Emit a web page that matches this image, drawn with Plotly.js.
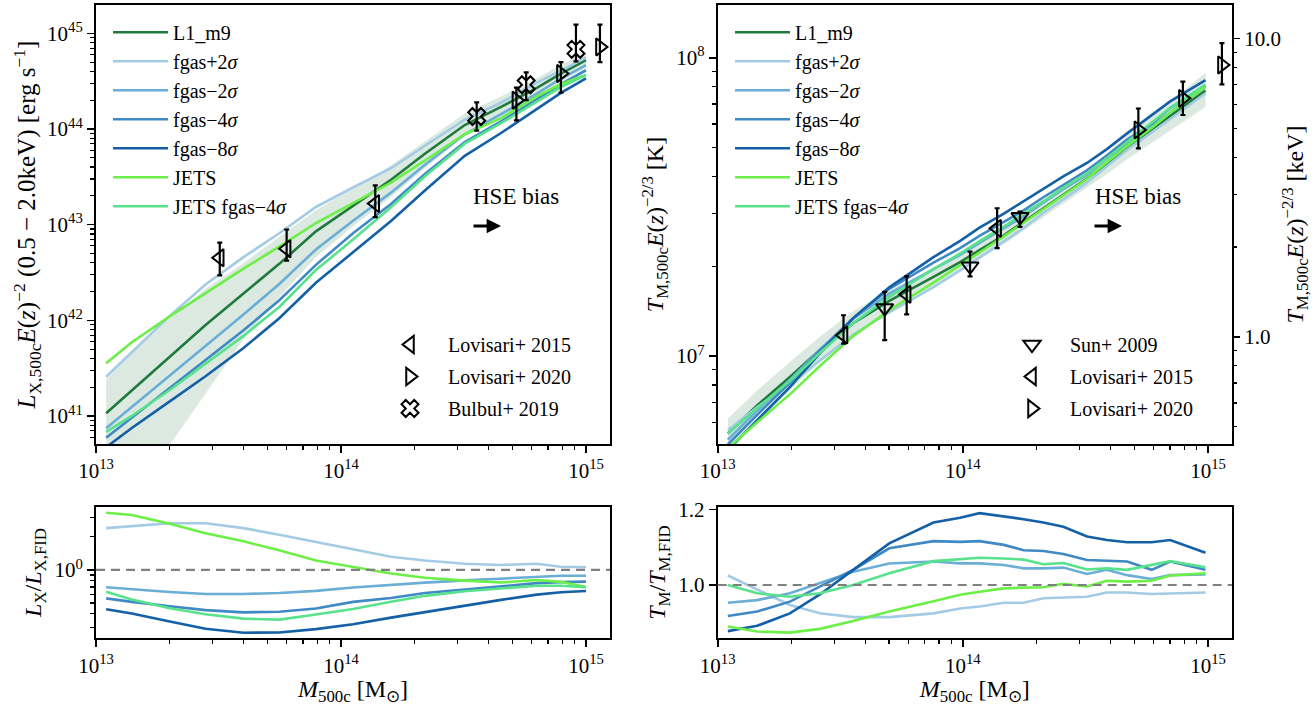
<!DOCTYPE html>
<html>
<head>
<meta charset="utf-8">
<script src="https://cdn.plot.ly/plotly-3.0.1.min.js"></script>
<style>html,body{margin:0;padding:0;background:#fff;}#plot{width:1315px;height:706px;}</style>
</head>
<body>
<div id="plot"></div>
<script>
// ---------------- DATA ----------------
// Luminosity panel (mass grid, Msun)
const massL = [1.1e13, 1.4e13, 2.0e13, 2.8e13, 4.0e13, 5.6e13, 7.9e13, 1.12e14, 1.6e14, 2.2e14, 3.2e14, 4.5e14, 6.3e14, 7.9e14, 1.0e15];
const Lx_L1m9   = [1.07e41, 1.86e41, 4.17e41, 8.91e41, 1.91e42, 3.89e42, 8.51e42, 1.58e43, 2.95e43, 5.50e43, 1.10e44, 1.70e44, 2.69e44, 3.80e44, 5.25e44];
const Lx_bandHi = [2.40e41, 4.47e41, 1.05e42, 2.14e42, 3.98e42, 7.41e42, 1.41e43, 2.40e43, 4.17e43, 7.41e43, 1.45e44, 2.19e44, 3.39e44, 4.68e44, 6.31e44];
const Lx_bandLo = [1.07e40, 1.86e40, 5.01e40, 1.74e41, 6.31e41, 1.74e42, 4.57e42, 9.55e42, 1.95e43, 3.89e43, 8.32e43, 1.32e44, 2.14e44, 3.09e44, 4.37e44];
const Lx_fgasP2 = [2.57e41, 4.68e41, 1.11e42, 2.37e42, 4.57e42, 8.13e42, 1.53e43, 2.45e43, 3.89e43, 6.68e43, 1.25e44, 1.88e44, 3.05e44, 4.07e44, 5.56e44];
const Lx_fgasM2 = [7.46e40, 1.24e41, 2.63e41, 5.40e41, 1.15e42, 2.40e42, 5.50e42, 1.10e43, 2.16e43, 4.22e43, 8.81e43, 1.43e44, 2.34e44, 3.37e44, 4.66e44];
const Lx_fgasM4 = [5.92e40, 9.55e40, 1.95e41, 3.85e41, 7.85e41, 1.62e42, 3.80e42, 8.13e42, 1.64e43, 3.39e43, 7.28e43, 1.20e44, 2.04e44, 2.95e44, 4.11e44];
const Lx_fgasM8 = [4.71e40, 7.48e40, 1.42e41, 2.60e41, 5.13e41, 1.05e42, 2.47e42, 5.09e42, 1.09e43, 2.27e43, 5.24e43, 9.08e43, 1.61e44, 2.38e44, 3.38e44];
const Lx_jets   = [3.55e41, 5.89e41, 1.10e42, 1.93e42, 3.47e42, 5.89e42, 1.04e43, 1.68e43, 2.75e43, 4.68e43, 8.81e43, 1.30e44, 2.19e44, 2.95e44, 3.66e44];
const Lx_jetsM4 = [6.81e40, 1.00e41, 1.87e41, 3.53e41, 6.87e41, 1.38e42, 3.35e42, 6.98e42, 1.52e43, 3.20e43, 7.03e43, 1.15e44, 1.94e44, 2.74e44, 3.66e44];

// L_X ratios to fiducial
const rL_fgasP2 = [2.40, 2.51, 2.66, 2.66, 2.40, 2.09, 1.80, 1.55, 1.32, 1.22, 1.14, 1.11, 1.14, 1.07, 1.06];
const rL_fgasM2 = [0.697, 0.668, 0.631, 0.605, 0.605, 0.617, 0.646, 0.692, 0.733, 0.767, 0.804, 0.839, 0.871, 0.887, 0.887];
const rL_fgasM4 = [0.552, 0.513, 0.468, 0.432, 0.412, 0.417, 0.447, 0.513, 0.556, 0.617, 0.664, 0.705, 0.759, 0.776, 0.783];
const rL_fgasM8 = [0.44, 0.402, 0.340, 0.292, 0.269, 0.270, 0.290, 0.321, 0.369, 0.413, 0.478, 0.535, 0.597, 0.627, 0.644];
const rL_jets   = [3.31, 3.16, 2.63, 2.16, 1.82, 1.51, 1.22, 1.06, 0.93, 0.85, 0.80, 0.77, 0.81, 0.78, 0.70];
const rL_jetsM4 = [0.635, 0.540, 0.449, 0.396, 0.361, 0.354, 0.394, 0.441, 0.514, 0.582, 0.641, 0.679, 0.719, 0.719, 0.697];

// Temperature panel (mass grid, Msun; T in K)
const massT = [1.10e13, 1.45e13, 1.97e13, 2.61e13, 3.57e13, 5.01e13, 7.59e13, 9.75e13, 1.17e14, 1.47e14, 1.77e14, 2.13e14, 2.57e14, 3.21e14, 3.87e14, 4.68e14, 5.89e14, 7.01e14, 9.77e14];
const T_L1m9   = [5.50e6, 6.84e6, 8.51e6, 1.047e7, 1.288e7, 1.531e7, 1.841e7, 2.065e7, 2.265e7, 2.541e7, 2.818e7, 3.126e7, 3.467e7, 3.936e7, 4.416e7, 5.012e7, 5.754e7, 6.383e7, 7.762e7];
const T_bandHi = [6.17e6, 7.67e6, 9.55e6, 1.161e7, 1.412e7, 1.660e7, 1.974e7, 2.214e7, 2.428e7, 2.724e7, 3.021e7, 3.351e7, 3.717e7, 4.219e7, 4.787e7, 5.493e7, 6.381e7, 7.162e7, 8.911e7];
const T_bandLo = [4.90e6, 6.10e6, 7.67e6, 9.55e6, 1.188e7, 1.428e7, 1.717e7, 1.926e7, 2.113e7, 2.370e7, 2.629e7, 2.916e7, 3.234e7, 3.672e7, 4.074e7, 4.573e7, 5.188e7, 5.689e7, 6.839e7];
const T_fgasP2 = [5.64e6, 6.75e6, 8.06e6, 9.68e6, 1.179e7, 1.401e7, 1.703e7, 1.937e7, 2.136e7, 2.422e7, 2.686e7, 3.017e7, 3.353e7, 3.814e7, 4.328e7, 4.912e7, 5.616e7, 6.243e7, 7.607e7];
const T_fgasM2 = [5.24e6, 6.57e6, 8.32e6, 1.051e7, 1.333e7, 1.618e7, 1.955e7, 2.183e7, 2.394e7, 2.676e7, 2.942e7, 3.264e7, 3.627e7, 4.050e7, 4.593e7, 5.142e7, 5.846e7, 6.549e7, 7.979e7];
const T_fgasM4 = [5.05e6, 6.36e6, 8.14e6, 1.043e7, 1.340e7, 1.680e7, 2.055e7, 2.300e7, 2.528e7, 2.810e7, 3.077e7, 3.407e7, 3.751e7, 4.196e7, 4.703e7, 5.323e7, 5.984e7, 6.779e7, 8.072e7];
const T_fgasM8 = [4.83e6, 6.10e6, 7.87e6, 1.021e7, 1.340e7, 1.699e7, 2.145e7, 2.433e7, 2.695e7, 3.003e7, 3.308e7, 3.642e7, 4.001e7, 4.440e7, 4.942e7, 5.578e7, 6.404e7, 7.143e7, 8.422e7];
const T_jets   = [4.90e6, 6.00e6, 7.44e6, 9.26e6, 1.166e7, 1.424e7, 1.762e7, 2.011e7, 2.224e7, 2.518e7, 2.798e7, 3.107e7, 3.477e7, 3.920e7, 4.465e7, 5.057e7, 5.817e7, 6.543e7, 8.003e7];
const T_jetsM4 = [5.50e6, 6.69e6, 8.25e6, 1.024e7, 1.288e7, 1.578e7, 1.957e7, 2.207e7, 2.428e7, 2.719e7, 3.007e7, 3.298e7, 3.668e7, 4.097e7, 4.610e7, 5.212e7, 6.059e7, 6.785e7, 8.127e7];

// T ratios to fiducial
const rT_fgasP2 = [1.025, 0.987, 0.947, 0.925, 0.915, 0.915, 0.925, 0.938, 0.943, 0.953, 0.953, 0.965, 0.967, 0.969, 0.98, 0.98, 0.976, 0.978, 0.98];
const rT_fgasM2 = [0.953, 0.96, 0.978, 1.004, 1.035, 1.057, 1.062, 1.057, 1.057, 1.053, 1.044, 1.044, 1.046, 1.029, 1.04, 1.026, 1.016, 1.026, 1.028];
const rT_fgasM4 = [0.918, 0.93, 0.956, 0.996, 1.04, 1.097, 1.116, 1.114, 1.116, 1.106, 1.092, 1.09, 1.082, 1.066, 1.065, 1.062, 1.04, 1.062, 1.04];
const rT_fgasM8 = [0.878, 0.892, 0.925, 0.975, 1.04, 1.11, 1.165, 1.178, 1.19, 1.182, 1.174, 1.165, 1.154, 1.128, 1.119, 1.113, 1.113, 1.119, 1.085];
const rT_jets   = [0.89, 0.877, 0.874, 0.884, 0.905, 0.93, 0.957, 0.974, 0.982, 0.991, 0.993, 0.994, 1.003, 0.996, 1.011, 1.009, 1.011, 1.025, 1.031];
const rT_jetsM4 = [1.0, 0.978, 0.969, 0.978, 1.0, 1.031, 1.063, 1.069, 1.072, 1.07, 1.067, 1.055, 1.058, 1.041, 1.044, 1.04, 1.053, 1.063, 1.047];

// Observations: L_X
const lov15L_M = [3.2e13, 6.0e13, 1.38e14];
const lov15L_L = [4.5e42, 5.6e42, 1.66e43];
const lov15L_hi = [6.5e42, 8.9e42, 2.57e43];
const lov15L_lo = [2.95e42, 4.2e42, 1.2e43];
const lov20L_M = [5.2e14, 7.9e14, 1.14e15];
const lov20L_L = [2.0e44, 3.8e44, 7.2e44];
const lov20L_hi = [2.7e44, 5.0e44, 1.23e45];
const lov20L_lo = [1.23e44, 2.4e44, 5.0e44];
const bul19L_M = [3.58e14, 5.7e14, 9.1e14];
const bul19L_L = [1.35e44, 2.9e44, 6.8e44];
const bul19L_hi = [1.9e44, 3.9e44, 1.23e45];
const bul19L_lo = [9.6e43, 2.0e44, 5.1e44];

// Observations: T
const sun09T_M = [4.8e13, 1.07e14, 1.71e14];
const sun09T_T = [1.45e7, 2.0e7, 2.93e7];
const sun09T_hi = [1.64e7, 2.24e7, 3.05e7];
const sun09T_lo = [1.13e7, 1.85e7, 2.71e7];
const lov15T_M = [3.26e13, 5.9e13, 1.38e14];
const lov15T_T = [1.175e7, 1.61e7, 2.68e7];
const lov15T_hi = [1.37e7, 1.85e7, 3.13e7];
const lov15T_lo = [1.10e7, 1.38e7, 2.30e7];
const lov20T_M = [5.2e14, 7.9e14, 1.14e15];
const lov20T_T = [5.73e7, 7.31e7, 9.46e7];
const lov20T_hi = [6.76e7, 8.32e7, 1.12e8];
const lov20T_lo = [4.97e7, 6.43e7, 8.15e7];

// Labels
const simNames = ['L1_m9', 'fgas+2<i>σ</i>', 'fgas−2<i>σ</i>', 'fgas−4<i>σ</i>', 'fgas−8<i>σ</i>', 'JETS', 'JETS fgas−4<i>σ</i>'];
const simColors = ['#1f7a3c', '#a3cbe3', '#6aaed6', '#3f89c4', '#1460a6', '#6cef46', '#58e28c'];

// ---------------- LAYOUT HELPERS ----------------
const W = 1315, H = 706;
const px = v => v / W;
const py = v => 1 - v / H;
const FONT = 'Liberation Serif, Times New Roman, serif';
const KEV_IN_K = 1.160452e7;

function minorLog(d0, d1, mults) {
  const out = [];
  for (let d = d0; d <= d1; d++) for (const m of mults) out.push(m * Math.pow(10, d));
  return out;
}
const m29 = [2, 3, 4, 5, 6, 7, 8, 9];

const axBase = {
  showline: true, linecolor: 'black', linewidth: 2, mirror: true,
  ticks: 'outside', ticklen: 7, tickwidth: 1.6, tickcolor: 'black',
  showgrid: false, zeroline: false,
  tickfont: { family: FONT, size: 21, color: 'black' }
};
function minorCfg(vals) {
  return { ticks: 'outside', ticklen: 4, tickwidth: 1.2, tickcolor: 'black', tickmode: 'array', tickvals: vals, showgrid: false };
}
function massAxis(domain, anchor) {
  return Object.assign({}, axBase, {
    domain: domain, anchor: anchor, type: 'log', range: [13, 15.098],
    tickmode: 'array', tickvals: [1e13, 1e14, 1e15],
    ticktext: ['10<sup>13</sup>', '10<sup>14</sup>', '10<sup>15</sup>'],
    minor: minorCfg(minorLog(13, 14, m29))
  });
}
const xL = [px(96), px(610)];
const xR = [px(717.7), px(1232)];
const yTop = [py(444), py(5)];
const yBot = [py(638.3), py(506.7)];

const titleFont = { family: FONT, size: 24, color: 'black' };
const massTitle = { text: '<i>M</i><sub>500c</sub> [M<sub>⊙</sub>]', font: titleFont, standoff: 6 };

const layout = {
  width: W, height: H,
  margin: { l: 0, r: 0, t: 0, b: 0 },
  paper_bgcolor: 'white', plot_bgcolor: 'white',
  font: { family: FONT, size: 20, color: 'black' },
  xaxis: massAxis(xL, 'y'),
  yaxis: Object.assign({}, axBase, {
    domain: yTop, anchor: 'x', type: 'log', range: [40.707, 45.296],
    tickmode: 'array', tickvals: [1e41, 1e42, 1e43, 1e44, 1e45],
    ticktext: ['10<sup>41</sup>', '10<sup>42</sup>', '10<sup>43</sup>', '10<sup>44</sup>', '10<sup>45</sup>'],
    minor: minorCfg(minorLog(40, 45, m29)),
    title: { text: '<i>L</i><sub>X,500c</sub><i>E</i>(<i>z</i>)<sup>−2</sup> (0.5 − 2.0keV) [erg s<sup>−1</sup>]', font: { family: FONT, size: 25, color: 'black' }, standoff: 4 }
  }),
  xaxis2: massAxis(xR, 'y2'),
  yaxis2: Object.assign({}, axBase, {
    domain: yTop, anchor: 'x2', type: 'log', range: [6.705, 8.177],
    tickmode: 'array', tickvals: [1e7, 1e8],
    ticktext: ['10<sup>7</sup>', '10<sup>8</sup>'],
    minor: minorCfg(minorLog(6, 7, m29)),
    title: { text: '<i>T</i><sub>M,500c</sub><i>E</i>(<i>z</i>)<sup>−2/3</sup> [K]', font: titleFont, standoff: 6 }
  }),
  yaxis5: Object.assign({}, axBase, {
    overlaying: 'y2', side: 'right', anchor: 'x2', type: 'log',
    range: [6.705 - Math.log10(KEV_IN_K), 8.177 - Math.log10(KEV_IN_K)],
    showline: false, mirror: false,
    tickmode: 'array', tickvals: [1, 10], ticktext: ['1.0', '10.0'],
    minor: minorCfg(minorLog(-1, 0, m29)),
    title: { text: '<i>T</i><sub>M,500c</sub><i>E</i>(<i>z</i>)<sup>−2/3</sup> [keV]', font: titleFont, standoff: 6 }
  }),
  xaxis3: Object.assign(massAxis(xL, 'y3'), { title: massTitle }),
  yaxis3: Object.assign({}, axBase, {
    domain: yBot, anchor: 'x3', type: 'log', range: [-0.621, 0.575],
    tickmode: 'array', tickvals: [1], ticktext: ['10<sup>0</sup>'],
    minor: minorCfg([0.3, 0.4, 0.5, 0.6, 0.7, 0.8, 0.9, 2, 3]),
    title: { text: '<i>L</i><sub>X</sub>/<i>L</i><sub>X,FID</sub>', font: titleFont, standoff: 6 }
  }),
  xaxis4: Object.assign(massAxis(xR, 'y4'), { title: massTitle }),
  yaxis4: Object.assign({}, axBase, {
    domain: yBot, anchor: 'x4', type: 'linear', range: [0.859, 1.207],
    tickmode: 'linear', tick0: 0, dtick: 0.2, tickformat: '.1f',
    title: { text: '<i>T</i><sub>M</sub>/<i>T</i><sub>M,FID</sub>', font: titleFont, standoff: 6 }
  }),
  legend:  { x: px(108), y: py(12.8), xanchor: 'left', yanchor: 'top', bgcolor: 'rgba(0,0,0,0)', font: { family: FONT, size: 20 }, itemwidth: 55, traceorder: 'normal' },
  legend2: { x: px(372), y: py(325), xanchor: 'left', yanchor: 'top', bgcolor: 'rgba(0,0,0,0)', font: { family: FONT, size: 20 }, itemwidth: 66, traceorder: 'grouped', tracegroupgap: 3 },
  legend3: { x: px(730), y: py(12.8), xanchor: 'left', yanchor: 'top', bgcolor: 'rgba(0,0,0,0)', font: { family: FONT, size: 20 }, itemwidth: 55, traceorder: 'normal' },
  legend4: { x: px(994), y: py(325), xanchor: 'left', yanchor: 'top', bgcolor: 'rgba(0,0,0,0)', font: { family: FONT, size: 20 }, itemwidth: 66, traceorder: 'grouped', tracegroupgap: 3 },
  shapes: [],
  annotations: [
    { xref: 'paper', yref: 'paper', x: px(516), y: py(196), xanchor: 'center', yanchor: 'middle', text: 'HSE bias', showarrow: false, font: { family: FONT, size: 23, color: 'black' } },
    { xref: 'paper', yref: 'paper', x: px(501), y: py(226), ax: -29, ay: 0, text: '', showarrow: true, arrowhead: 2, arrowsize: 0.9, arrowwidth: 3.2, arrowcolor: 'black', standoff: 0 },
    { xref: 'paper', yref: 'paper', x: px(1137.5), y: py(196), xanchor: 'center', yanchor: 'middle', text: 'HSE bias', showarrow: false, font: { family: FONT, size: 23, color: 'black' } },
    { xref: 'paper', yref: 'paper', x: px(1122), y: py(226), ax: -29, ay: 0, text: '', showarrow: true, arrowhead: 2, arrowsize: 0.9, arrowwidth: 3.2, arrowcolor: 'black', standoff: 0 }
  ]
};

// dashed reference lines at ratio = 1
function unityShape(xr, yr, range, isLog) {
  const v = isLog ? 0 : 1;
  const f = (v - range[0]) / (range[1] - range[0]);
  return { type: 'line', xref: xr + ' domain', yref: yr + ' domain', x0: 0, x1: 1, y0: f, y1: f,
           line: { color: '#808080', width: 2.2, dash: '9px,6px' }, layer: 'above' };
}
layout.shapes.push(unityShape('x3', 'y3', layout.yaxis3.range, true));
layout.shapes.push(unityShape('x4', 'y4', layout.yaxis4.range, false));

// ---------------- TRACES ----------------
const traces = [];
const bandFill = 'rgba(40,125,70,0.17)';
function band(x, lo, hi, xa, ya) {
  traces.push({ x: x, y: lo, xaxis: xa, yaxis: ya, mode: 'lines', line: { width: 0, color: 'rgba(0,0,0,0)' }, showlegend: false, hoverinfo: 'skip' });
  traces.push({ x: x, y: hi, xaxis: xa, yaxis: ya, mode: 'lines', fill: 'tonexty', fillcolor: bandFill, line: { width: 0, color: 'rgba(0,0,0,0)' }, showlegend: false, hoverinfo: 'skip' });
}
function simLines(x, ys, xa, ya, leg, startIdx) {
  ys.forEach((y, i) => {
    const k = i + startIdx;
    traces.push({ x: x, y: y, xaxis: xa, yaxis: ya, mode: 'lines', name: simNames[k],
      line: { color: simColors[k], width: 2.6 }, showlegend: !!leg, legend: leg || 'legend' });
  });
}
function obs(x, y, hi, lo, sym, name, xa, ya, leg) {
  traces.push({ x: x, y: y, xaxis: xa, yaxis: ya, mode: 'markers', name: name, legend: leg,
    legendgroup: leg + name,
    marker: { symbol: sym, size: 15, color: 'black', line: { width: 2, color: 'black' } },
    error_y: { type: 'data', symmetric: false,
      array: hi.map((h, i) => h - y[i]), arrayminus: lo.map((l, i) => y[i] - l),
      color: 'black', thickness: 2.2, width: 2.5 } });
}

// Top-left
band(massL, Lx_bandLo, Lx_bandHi, 'x', 'y');
simLines(massL, [Lx_L1m9, Lx_fgasP2, Lx_fgasM2, Lx_fgasM4, Lx_fgasM8, Lx_jets, Lx_jetsM4], 'x', 'y', 'legend', 0);
obs(lov15L_M, lov15L_L, lov15L_hi, lov15L_lo, 'triangle-left-open', 'Lovisari+ 2015', 'x', 'y', 'legend2');
obs(lov20L_M, lov20L_L, lov20L_hi, lov20L_lo, 'triangle-right-open', 'Lovisari+ 2020', 'x', 'y', 'legend2');
obs(bul19L_M, bul19L_L, bul19L_hi, bul19L_lo, 'x-open', 'Bulbul+ 2019', 'x', 'y', 'legend2');

// Top-right
band(massT, T_bandLo, T_bandHi, 'x2', 'y2');
simLines(massT, [T_L1m9, T_fgasP2, T_fgasM2, T_fgasM4, T_fgasM8, T_jets, T_jetsM4], 'x2', 'y2', 'legend3', 0);
obs(sun09T_M, sun09T_T, sun09T_hi, sun09T_lo, 'triangle-down-open', 'Sun+ 2009', 'x2', 'y2', 'legend4');
obs(lov15T_M, lov15T_T, lov15T_hi, lov15T_lo, 'triangle-left-open', 'Lovisari+ 2015', 'x2', 'y2', 'legend4');
obs(lov20T_M, lov20T_T, lov20T_hi, lov20T_lo, 'triangle-right-open', 'Lovisari+ 2020', 'x2', 'y2', 'legend4');
// keV axis carrier (no points)
traces.push({ x: [], y: [], xaxis: 'x2', yaxis: 'y5', mode: 'lines', showlegend: false, hoverinfo: 'skip' });

// Bottom-left ratios
simLines(massL, [rL_fgasP2, rL_fgasM2, rL_fgasM4, rL_fgasM8, rL_jets, rL_jetsM4], 'x3', 'y3', null, 1);
// Bottom-right ratios
simLines(massT, [rT_fgasP2, rT_fgasM2, rT_fgasM4, rT_fgasM8, rT_jets, rT_jetsM4], 'x4', 'y4', null, 1);

Plotly.newPlot('plot', traces, layout, { displayModeBar: false, staticPlot: true });
</script>
</body>
</html>
